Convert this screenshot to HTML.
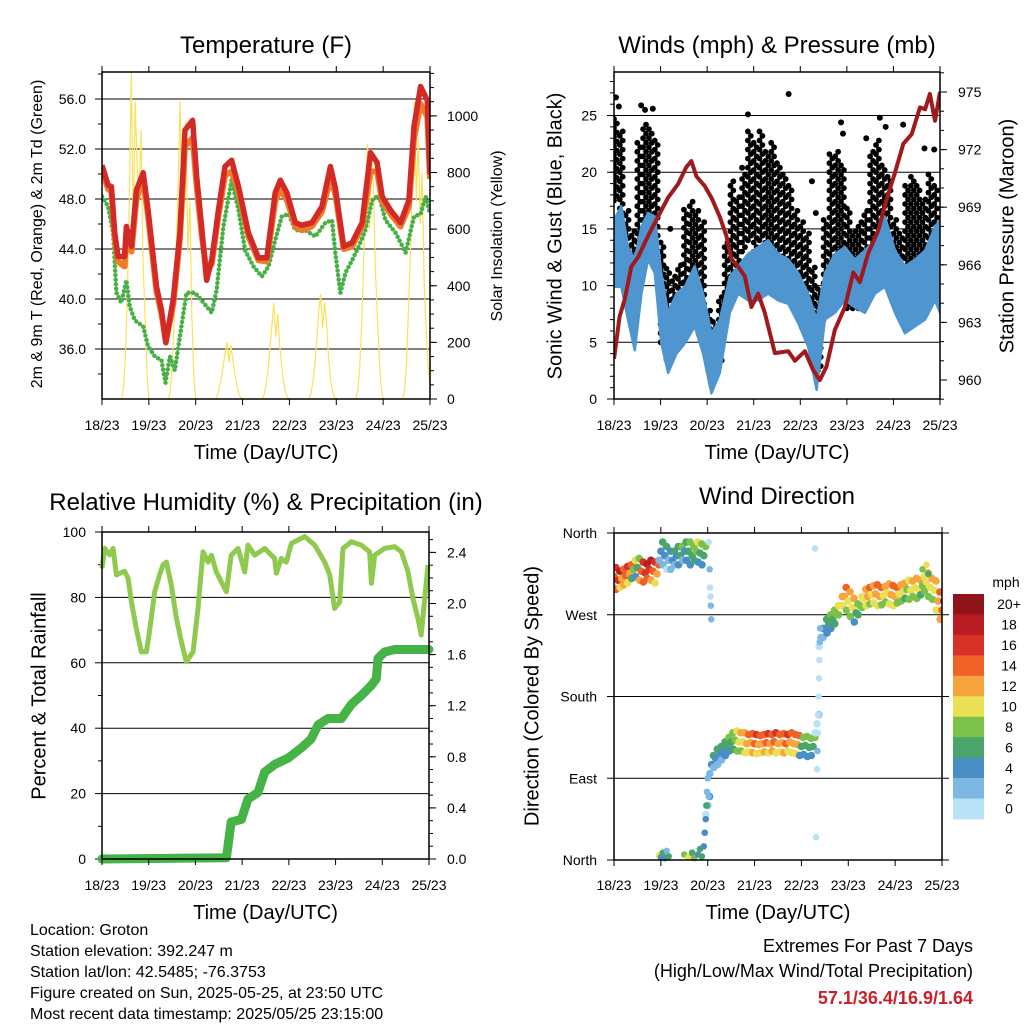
<!DOCTYPE html>
<html><head><meta charset="utf-8"><style>
html,body{margin:0;padding:0;background:#fff;}
svg{display:block;font-family:"Liberation Sans",Arial,sans-serif;}
</style></head><body>
<svg id="chart" width="1024" height="1024" viewBox="0 0 1024 1024"></svg>
<script>
// ---------- DATA ----------
const xTickLabels = ["18/23","19/23","20/23","21/23","22/23","23/23","24/23","25/23"];
// Temperature (F)
const tHours = [0,3.1,4.8,6.5,8.2,11.6,12.5,15.1,17.6,21.1,23.6,27.9,30.5,32.7,36.5,39.9,42.5,46.4,48.5,51,53.6,56.2,59.6,63,66.4,69.9,75,80.1,84.4,88.7,91.3,94.7,99,102.4,107.5,112.7,117,119.5,123.8,128.1,133.2,137.5,140.9,143.5,147.8,152.9,157.2,159.8,163.2,166.6,168];
const tRed = [50.7,49.1,49.0,45.3,43.4,43.4,45.8,44.2,48.7,50.1,47.1,41.0,39.1,36.5,40.0,45.3,53.5,54.3,49.8,45.8,41.5,43.1,47.1,50.6,51.1,49.0,45.3,43.3,43.3,48.5,49.5,48.5,46.1,45.9,46.1,47.4,50.6,48.9,44.2,44.5,46.1,51.7,50.9,48.2,47.1,46.1,47.9,53.8,57.0,55.9,50.0];
const tOrange = [50.3,48.8,48.6,45.0,43.0,42.6,45.2,43.8,48.0,49.6,46.6,40.6,38.8,36.6,39.6,44.8,52.2,52.9,49.0,45.2,42.2,42.8,46.6,49.9,50.2,48.6,45.0,43.1,43.0,47.8,48.8,47.9,45.8,45.5,45.8,47.0,49.6,48.4,44.0,44.2,45.8,50.2,50.2,47.8,46.8,45.8,47.4,52.8,55.6,54.6,49.6];
const tdHours = [0,3.1,5.7,7.4,9.9,12.5,14.2,16.8,21.1,23.6,27.1,30.5,32.5,34.8,37.3,39.9,43.3,47.6,51,56.2,58.7,62.2,66.4,69.9,73.3,77.6,81.9,85.3,88.7,92.1,95.6,99,104.1,109.3,114.4,117.8,119.5,122.1,124.7,128.1,131.5,134.9,138.4,141.8,145.2,150.4,155.5,159.8,163.2,165.8,168];
const tdVals = [48.2,47.4,45.3,40.5,39.7,41.5,39.4,38.3,37.8,36.2,35.4,35.1,33.3,35.4,34.3,37.0,40.5,40.5,39.9,38.9,40.7,45.8,49.5,47.1,43.9,42.6,41.8,42.6,44.7,46.6,46.8,45.5,45.5,45.0,46.1,46.3,43.7,40.5,42.1,43.1,44.2,45.5,47.9,48.3,46.3,45.3,43.7,46.6,46.8,48.2,46.8];
// Solar insolation (hourly, h0..h168)
const solarVals = [0,0,0,0,0,0,0,0,0,0,
 0,40,150,380,700,1160,600,1050,820,700,950,480,300,100,0,
 0,0,0,0,0,0,0,0,0, 0,30,120,280,520,750,1050,600,920,980,520,700,300,80,0,
 0,0,0,0,0,0,0,0,0, 0,10,40,70,110,160,200,130,190,140,90,50,20,5,0,
 0,0,0,0,0,0,0,0,0, 0,15,50,100,180,260,340,220,300,190,120,60,25,5,0,
 0,0,0,0,0,0,0,0,0, 0,20,60,120,210,310,370,250,340,270,150,70,30,8,0,
 0,0,0,0,0,0,0,0,0, 0,30,110,260,480,720,900,600,870,760,460,300,150,40,0,
 0,0,0,0,0,0,0,0,0, 0,30,130,320,520,820,1050,700,920,620,800,420,250,120,50];
// Sonic wind band (mph)
const windHours = [0,3.8,7.2,10.7,14.1,17.5,21,24.4,27.9,32.2,36.5,41.6,45.9,50.2,54.5,59.7,64,69.1,74.3,79.4,84.6,89.8,94.9,100.1,104.4,108.7,113.8,119,124.1,129.3,134.5,139.6,144.8,149.9,155.1,160.3,165.4,168];
const windHi = [15.8,17.0,13.4,12.3,15.2,16.4,16.1,11.1,7.6,9.3,9.9,11.7,9.3,5.8,7.0,10.8,11.7,12.8,13.4,14.0,12.8,12.3,11.1,9.3,7.0,11.1,12.8,13.4,12.3,13.1,14.0,16.1,13.1,11.7,12.3,13.1,15.2,15.8];
const windLo = [9.9,9.9,7.0,4.3,9.3,12.3,11.1,4.9,2.3,4.0,4.9,6.4,4.0,0.5,2.3,7.6,9.3,8.7,8.7,9.3,8.7,8.4,6.7,4.6,0.8,7.0,7.6,8.7,8.1,7.6,9.3,9.9,7.6,5.8,6.4,7.0,8.7,7.6];
// Gust (mph), 3-hour bins
const gustHours = [0,3,6,9,12,15,18,21,24,27,30,33,36,39,42,45,48,51,54,57,60,63,66,69,72,75,78,81,84,87,90,93,96,99,102,105,108,111,114,117,120,123,126,129,132,135,138,141,144,147,150,153,156,159,162,165];
const gustHi = [25,24,17,15,23,24.6,24,23,14,11.7,11,12,17,17.5,17,16,8,7,9,14,19.6,18,20,24,23,24,22,23,21,20,19,17,16,15,12,10,16,22,22,21,17,15,16,17,22,23,21,20,16,15,19,20,19,18,20,19];
const gustLo = [17.5,16,9,8,13,15,15,14,5,3.5,4,5,8.7,9,9,8,3.4,2,3,7,10.8,11,13,14,13,14,13,13,12,11,10,9,8,7,4,2.5,7,12,11,11,8,8,8,9,11,12,11,10,9,9,10,10,10,10,11,10];
const gustOutHours = [1,2.5,14,16,20,29,66,69,90,102,104,117,118,130,137,140,149,160,165];
const gustOutVals = [26.6,25.8,25.9,25.5,25.6,15,20.4,25.1,26.9,19.2,16.4,24.4,23.4,23.0,24.8,24.0,24.2,22.1,22.0];
// Station pressure (mb)
const presHours = [0,2.9,5.5,8.9,12.4,17.5,22.7,27.9,33,37.3,39.9,42.5,46.8,50.2,54.5,57.9,60.5,64,67.4,70.8,74.3,77.7,82.9,89.8,93.2,98.4,102.7,106.1,109.5,113.8,119,123.3,126.7,131,136.2,140.5,144.8,149.1,153.4,157.7,160.3,162.8,165.4,168];
const presVals = [961.1,963.3,964.2,965.9,966.4,967.5,968.5,969.5,970.2,971.1,971.4,970.6,970.1,969.5,968.5,967.5,966.3,965.9,965.4,963.8,964.5,963.5,961.4,961.5,961.0,961.5,960.5,960.0,960.7,962.6,963.8,965.6,965.1,966.6,967.8,969.4,970.8,972.3,972.8,974.2,974.1,974.9,973.5,975.0];
// Relative humidity (%)
const rhHours = [0,1.4,3.9,5.7,7.4,11.6,13.4,15.1,17.6,20.2,22.8,24.5,27.1,29.6,31.3,33.1,35.6,38.2,40.8,43.3,46.8,49.3,51.9,54.5,56.2,58.7,61.3,63.9,66.4,69.9,73.3,75,78.4,83.6,88.7,89.6,92.1,94.7,97.3,104.1,109.3,114.4,117,119.5,122.1,123.8,128.1,133.2,137.5,138.4,140.1,145.2,150.4,153.8,157.2,159.8,162.3,164,165.8,167.5];
const rhVals = [88.9,95,93,95,86.9,88,85.8,78.7,70.5,63.4,63.4,70,81.7,86.9,89.9,90.8,83.8,73.6,66.4,60.3,63.4,76.6,93.9,90.8,92.9,87.8,84.8,81.7,92.9,95,87.8,96,92.9,95,91.9,87.4,91.9,90.8,96.5,98.6,96,90.8,86.9,76.6,78.6,95,97,96,93.9,84.3,92.9,95,95.5,93.9,87.8,79.6,73.6,68.5,79.6,89.9];
// Cumulative rainfall (in)
const rainHours = [0,63.9,66.4,71.6,75,80.1,83.6,88.7,95.6,102.4,107.5,111,116.1,123,128.1,133.2,138.4,140.9,141.8,145.2,150.4,168];
const rainVals = [0,0.01,0.29,0.31,0.47,0.52,0.68,0.74,0.79,0.87,0.94,1.05,1.10,1.10,1.21,1.28,1.36,1.41,1.57,1.62,1.64,1.64];
// Wind direction (deg) and speed (mph), 2-hour samples h0..h168
const dirHours = [0,2,4,6,8,10,12,14,16,18,20,22,24,26,28,30,32,34,36,38,40,42,44,46,48,50,52,54,56,58,60,62,64,66,68,70,72,74,76,78,80,82,84,86,88,90,92,94,96,98,100,102,104,106,108,110,112,114,116,118,120,122,124,126,128,130,132,134,136,138,140,142,144,146,148,150,152,154,156,158,160,162,164,166,168];
const dirVals = [312,308,310,313,315,320,322,318,316,320,318,315,340,335,330,330,335,335,340,340,335,340,338,335,60,105,112,115,120,125,130,132,130,130,128,129,128,127,128,129,128,130,128,129,128,130,128,127,125,126,124,125,150,245,255,260,265,270,280,290,285,278,272,280,288,290,292,293,290,291,294,292,290,293,295,298,297,300,298,302,306,300,297,285,275];
const dirSpd = [14,16,13,15,13,8,7,14,16,17,15,12,4,4,3,4,5,6,5,7,7,8,7,6,3,4,4,4,5,6,7,9,10,10,12,13,14,13,12,14,13,15,12,13,14,12,13,12,7,6,7,6,1,3,5,6,7,8,10,12,11,10,7,8,11,12,11,13,12,10,11,12,13,11,10,9,10,11,10,9,10,11,10,12,14];
const dirXHours = [23,24,25,26,27,28,36,38,40,41,43,44,45,46,46.5,47,47.3,47.6,48,48.5,48.5,49,49.2,49.4,49.6,49.8,103,103.5,104,104.2,104.4,104.6,104.8,105,105.2,105.4,105.6,158,160,161];
const dirXVals = [5,3,8,2,10,4,6,3,8,2,6,12,4,15,30,45,60,75,90,70,350,320,300,290,280,265,343,25,100,120,140,160,180,200,220,240,255,320,325,315];
const dirXSpd = [10,4,6,4,3,6,8,10,6,8,5,7,6,4,4,4,6,3,2,2,1,2,1,1,2,2,1,1,1,2,1,1,1,1,1,2,3,8,10,6];
const speedColors = ["#b9e2f6","#7db8e4","#4a8ec6","#4aa56a","#7cc24a","#e9e055","#f7a43f","#ee6228","#d93127","#b81c22","#8f1419"];
const speedLabels = ["0","2","4","6","8","10","12","14","16","18","20+"];

// ---------- HELPERS ----------
const NS = "http://www.w3.org/2000/svg";
const svg = document.getElementById("chart");
function el(tag, attrs, parent, text){
  const e = document.createElementNS(NS, tag);
  for (const k in attrs) e.setAttribute(k, attrs[k]);
  if (text !== undefined) e.textContent = text;
  (parent || svg).appendChild(e);
  return e;
}
function lin(d0,d1,r0,r1){ return v => r0 + (v-d0)/(d1-d0)*(r1-r0); }
function pathOf(xs, ys, fx, fy){
  let d = "";
  for (let i=0;i<xs.length;i++) d += (i?"L":"M") + fx(xs[i]).toFixed(1) + "," + fy(ys[i]).toFixed(1);
  return d;
}
function frame(P, name){
  const g = el("g", {});
  
  
  el("rect", {x:P.x0, y:P.y0, width:P.x1-P.x0, height:P.y1-P.y0, fill:"none", stroke:"#000", "stroke-width":1.5}, g);
  return g;
}
function xAxis(P, name, labelY, titleY){
  const fx = lin(0,168,P.x0,P.x1);
  const g = el("g", {});
  
  
  xTickLabels.forEach((lab,i)=>{
    const x = fx(i*24);
    el("line",{x1:x,x2:x,y1:P.y1,y2:P.y1+6,stroke:"#000","stroke-width":1},g);
    el("line",{x1:x,x2:x,y1:P.y0,y2:P.y0-6,stroke:"#000","stroke-width":1},g);
    const t = el("text",{x:x,y:labelY,"font-size":14,"text-anchor":"middle"},g,lab);
    
    
  });
  const tt = el("text",{x:(P.x0+P.x1)/2,y:titleY,"font-size":20,"text-anchor":"middle"},g,"Time (Day/UTC)");
  
  
}
function yTicks(P, side, vals, fy, fmt, minorVals, grid, labelX){
  const g = el("g", {});
  
  
  const xe = side==="left" ? P.x0 : P.x1;
  const dir = side==="left" ? -1 : 1;
  (minorVals||[]).forEach(v=>{
    const y=fy(v);
    el("line",{x1:xe,x2:xe+dir*4,y1:y,y2:y,stroke:"#000","stroke-width":1},g);
  });
  vals.forEach(v=>{
    const y=fy(v);
    el("line",{x1:xe,x2:xe+dir*7,y1:y,y2:y,stroke:"#000","stroke-width":1},g);
    if (grid) el("line",{x1:P.x0,x2:P.x1,y1:y,y2:y,stroke:"#000","stroke-width":1},g);
    const t = el("text",{x:labelX,y:y+5,"font-size":14,"text-anchor":side==="left"?"end":"start"},g,fmt(v));
    
    
  });
}
function rotTitle(x, y, size, text, name){
  const t = el("text",{x:x,y:y,"font-size":size,"text-anchor":"middle",transform:`rotate(-90 ${x} ${y})`,"dominant-baseline":"middle"},svg,text);
  
  
}
function title(x,y,text,name){
  const t = el("text",{x:x,y:y,"font-size":24,"text-anchor":"middle"},svg,text);
  
  
}
function rng(a,b,s){ const r=[]; for(let v=a; v<=b+1e-9; v+=s) r.push(+v.toFixed(4)); return r; }

// ---------- PANEL 1: TEMPERATURE ----------
(function(){
  const P = {x0:102,x1:430,y0:72,y1:399};
  const fx = lin(0,168,P.x0,P.x1);
  const fy = lin(32,58.16,P.y1,P.y0);
  const fs = lin(0,1155,P.y1,P.y0);
  const clip = el("clipPath",{id:"c1"}); el("rect",{x:P.x0,y:P.y0,width:P.x1-P.x0,height:P.y1-P.y0},clip);
  yTicks(P,"left",[36,40,44,48,52,56],fy,v=>v.toFixed(1),rng(34,58,2),true,86);
  yTicks(P,"right",[0,200,400,600,800,1000],fs,v=>String(v),rng(0,1150,50),false,447);
  const g = el("g",{"clip-path":"url(#c1)"});
  const hrs = solarVals.map((v,i)=>i);
  const s = el("path",{d:pathOf(hrs,solarVals,fx,fs),fill:"none",stroke:"#f9e15a","stroke-width":1.2},g);
   
  const td = el("path",{d:pathOf(tdHours,tdVals,fx,fy),fill:"none",stroke:"#45b044","stroke-width":4.5,"stroke-dasharray":"0 4.5","stroke-linecap":"round","stroke-linejoin":"round"},g);
   
  const o = el("path",{d:pathOf(tHours,tOrange,fx,fy),fill:"none",stroke:"#f07a2a","stroke-width":6,"stroke-linejoin":"round"},g);
   
  const r = el("path",{d:pathOf(tHours,tRed,fx,fy),fill:"none",stroke:"#d42a26","stroke-width":5.5,"stroke-linejoin":"round"},g);
   
  frame(P,"temperature");
  xAxis(P,"temperature",430,459);
  title(266,53,"Temperature (F)","temperature-title");
  rotTitle(38,234,16,"2m & 9m T (Red, Orange) & 2m Td (Green)","temperature-y-axis-title");
  rotTitle(498,236,16,"Solar Insolation (Yellow)","solar-y-axis-title");
})();

// ---------- PANEL 2: WINDS & PRESSURE ----------
(function(){
  const P = {x0:614,x1:940,y0:72,y1:399};
  const fx = lin(0,168,P.x0,P.x1);
  const fy = lin(0,28.84,P.y1,P.y0);
  const fp = lin(960,975,380,92);
  const clip = el("clipPath",{id:"c2"}); el("rect",{x:P.x0,y:P.y0,width:P.x1-P.x0,height:P.y1-P.y0},clip);
  yTicks(P,"left",[0,5,10,15,20,25],fy,v=>String(v),rng(0,28,1),true,597);
  yTicks(P,"right",[960,963,966,969,972,975],fp,v=>String(v),rng(959,976,1),false,958);
  const g = el("g",{"clip-path":"url(#c2)"});
  const gg = el("g",{},g);
   
  gustHours.forEach((h,i)=>{
    for (let c=0;c<2;c++){
      const x = fx(h + c*1.5);
      for (let v = gustLo[i] + c*0.4; v <= gustHi[i]; v += 0.8){
        el("circle",{cx:x.toFixed(1),cy:fy(v).toFixed(1),r:2.9,fill:"#000"},gg);
      }
    }
  });
  gustOutHours.forEach((h,i)=>{
    const c = el("circle",{cx:fx(h),cy:fy(gustOutVals[i]),r:3,fill:"#000"},gg);
     
  });
  let d = "";
  windHours.forEach((h,i)=>{ d += (i?"L":"M")+fx(h).toFixed(1)+","+fy(windHi[i]).toFixed(1); });
  for (let i=windHours.length-1;i>=0;i--) d += "L"+fx(windHours[i]).toFixed(1)+","+fy(windLo[i]).toFixed(1);
  const w = el("path",{d:d+"Z",fill:"#4f95cf",stroke:"#4f95cf","stroke-width":2.5,"stroke-linejoin":"round"},g);
   
  const p = el("path",{d:pathOf(presHours,presVals,fx,fp),fill:"none",stroke:"#a0191c","stroke-width":4,"stroke-linejoin":"round"},g);
   
  frame(P,"winds");
  xAxis(P,"winds",430,459);
  title(777,53,"Winds (mph) & Pressure (mb)","winds-title");
  rotTitle(556,236,20,"Sonic Wind & Gust (Blue, Black)","winds-y-axis-title");
  rotTitle(1008,236,20,"Station Pressure (Maroon)","pressure-y-axis-title");
})();

// ---------- PANEL 3: RH & PRECIP ----------
(function(){
  const P = {x0:102,x1:429,y0:532,y1:859};
  const fx = lin(0,168,P.x0,P.x1);
  const fy = lin(0,100,P.y1,P.y0);
  const fr = lin(0,2.4,859,552.4);
  yTicks(P,"left",[0,20,40,60,80,100],fy,v=>String(v),rng(10,90,20),true,86);
  yTicks(P,"right",[0,0.4,0.8,1.2,1.6,2.0,2.4],fr,v=>v.toFixed(1),rng(0.1,2.5,0.1),false,447);
  const rh = el("path",{d:pathOf(rhHours,rhVals,fx,fy),fill:"none",stroke:"#8fca4f","stroke-width":5,"stroke-linejoin":"round"});
   
  const rn = el("path",{d:pathOf(rainHours,rainVals,fx,fr),fill:"none",stroke:"#46b346","stroke-width":9,"stroke-linejoin":"round","stroke-linecap":"round"});
   
  frame(P,"humidity");
  xAxis(P,"humidity",890,919);
  title(266,510,"Relative Humidity (%) & Precipitation (in)","humidity-title");
  rotTitle(40,696,20,"Percent & Total Rainfall","humidity-y-axis-title");
})();

// ---------- PANEL 4: WIND DIRECTION ----------
(function(){
  const P = {x0:614,x1:942,y0:533,y1:860};
  const fx = lin(0,168,P.x0,P.x1);
  const fy = lin(0,360,P.y1,P.y0);
  const dirLabels = ["North","East","South","West","North"];
  const g0 = el("g",{});
   
  [0,90,180,270,360].forEach((v,i)=>{
    const y = fy(v);
    el("line",{x1:P.x0-7,x2:P.x1,y1:y,y2:y,stroke:"#000","stroke-width":1},g0);
    el("line",{x1:P.x1,x2:P.x1+7,y1:y,y2:y,stroke:"#000","stroke-width":1},g0);
    const t = el("text",{x:597,y:y+5,"font-size":14,"text-anchor":"end"},g0,dirLabels[i]);
     
  });
  const col = s => speedColors[Math.max(0,Math.min(10,Math.floor(s/2)))];
  const clip = el("clipPath",{id:"c4"}); el("rect",{x:P.x0,y:P.y0-4,width:P.x1-P.x0,height:P.y1-P.y0+8},clip);
  const g = el("g",{"clip-path":"url(#c4)"});
   
  dirHours.forEach((h,i)=>{
    [-10,0,10].forEach((off,k)=>{
      const c = el("circle",{cx:(fx(h)+(k-1)*1.8).toFixed(1),cy:fy(dirVals[i]+off).toFixed(1),r:3.8,fill:col(dirSpd[i] + (k===1?0:(k===0?-2:2)))},g);
       
    });
  });
  dirXHours.forEach((h,i)=>{
    const c = el("circle",{cx:fx(h),cy:fy(dirXVals[i]),r:3.3,fill:col(dirXSpd[i])},g);
     
  });
  frame(P,"direction");
  xAxis(P,"direction",890,919);
  title(777,504,"Wind Direction","direction-title");
  rotTitle(533,696,20,"Direction (Colored By Speed)","direction-y-axis-title");
  const cb = el("g",{});
   
  const bh = 20.45;
  for (let i=0;i<11;i++){
    const idx = 10-i;
    el("rect",{x:953,y:594+i*bh,width:31,height:bh+0.5,fill:speedColors[idx]},cb);
    const t = el("text",{x:1009,y:594+i*bh+bh/2+5,"font-size":14,"text-anchor":"middle"},cb,speedLabels[idx]);
     
  }
  const m = el("text",{x:1006,y:587,"font-size":14,"text-anchor":"middle"},cb,"mph");
   
})();

// ---------- FOOTER TEXT ----------
(function(){
  const lines = ["Location: Groton","Station elevation: 392.247 m","Station lat/lon: 42.5485; -76.3753","Figure created on Sun, 2025-05-25, at 23:50 UTC","Most recent data timestamp: 2025/05/25 23:15:00"];
  lines.forEach((s,i)=>{
    const t = el("text",{x:30,y:935+i*21,"font-size":16},svg,s);
     
  });
  const a = el("text",{x:973,y:952,"font-size":18,"text-anchor":"end"},svg,"Extremes For Past 7 Days");
   
  const b = el("text",{x:973,y:977,"font-size":18,"text-anchor":"end"},svg,"(High/Low/Max Wind/Total Precipitation)");
   
  const c = el("text",{x:973,y:1004,"font-size":18,"font-weight":"bold","text-anchor":"end",fill:"#c8202a"},svg,"57.1/36.4/16.9/1.64");
   
})();
</script>
</body></html>
